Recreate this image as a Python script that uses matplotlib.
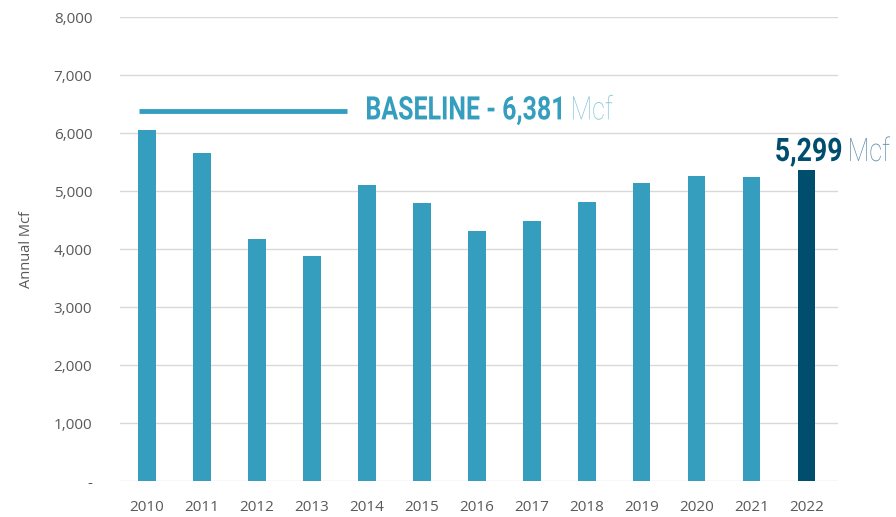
import matplotlib
matplotlib.use("Agg")
import matplotlib.pyplot as plt
from matplotlib.ticker import FuncFormatter
from matplotlib.textpath import TextPath
from matplotlib.patches import PathPatch
from matplotlib.font_manager import FontProperties
from matplotlib.transforms import Affine2D, ScaledTranslation

years = ["2010", "2011", "2012", "2013", "2014", "2015", "2016",
         "2017", "2018", "2019", "2020", "2021", "2022"]
annual_mcf = [6050, 5660, 4170, 3880, 5100, 4790, 4310,
              4480, 4810, 5140, 5260, 5240, 5360]
baseline = 6381
latest_label = "5,299"

LIGHT = "#359ebf"
DARK = "#004e6e"
GREY = "#595959"

fig = plt.figure(figsize=(8.96, 5.17), dpi=100)
ax = fig.add_axes([0.134, 0.0696, 0.801, 0.8975])

x = list(range(len(years)))
colors = [LIGHT] * (len(years) - 1) + [DARK]
ax.bar(x, annual_mcf, width=0.31, color=colors, zorder=3)

ax.set_ylim(0, 8000)
ax.set_xlim(-0.49, 12.56)
ax.set_yticks(range(0, 8001, 1000))
ax.yaxis.set_major_formatter(FuncFormatter(lambda v, p: "-" if v == 0 else f"{int(v):,}"))
ax.set_xticks(x)
ax.set_xticklabels(years)
ax.grid(axis="y", color="#d9d9d9", lw=1, zorder=0)
for s in ax.spines.values():
    s.set_visible(False)
ax.tick_params(axis="both", length=0, labelsize=11, labelcolor=GREY)
ax.tick_params(axis="y", pad=20)
ax.tick_params(axis="x", pad=14)
for lab in ax.get_xticklabels() + ax.get_yticklabels():
    lab.set_family("Open Sans")
ax.set_ylabel("Annual Mcf", fontsize=10.5, color=GREY, family="Open Sans", labelpad=14)

BOLD = FontProperties(family="Roboto", weight="bold")
THIN = FontProperties(family="Roboto", weight="light")


def cond_text(xd, yd, s, prop, color, cap_px, width_px, dx_px=0, dy_px=0):
    """Condensed headline text: scale a text path to a cap height / width in pixels."""
    p = TextPath((0, 0), s, size=100, prop=prop)
    cap = TextPath((0, 0), "H", size=100, prop=prop).get_extents().height
    ext = p.get_extents()
    ky = cap_px / cap
    kx = width_px / ext.width
    tr = (Affine2D().translate(-ext.x0, 0).scale(kx, ky)
          .translate(dx_px, -cap_px / 2 + dy_px)
          + ScaledTranslation(xd, yd, ax.transData))
    ax.add_patch(PathPatch(p, transform=tr, color=color, lw=0, clip_on=False, zorder=5))


# baseline marker line + text
ax.plot([-0.15, 3.64], [baseline, baseline], color=LIGHT, lw=3.5,
        solid_capstyle="butt", zorder=4)
cond_text(4.0, baseline, "BASELINE - 6,381", BOLD, LIGHT, 23, 194, dy_px=3)
cond_text(4.0, baseline, "Mcf", THIN, "#86c2d8", 23, 40, dx_px=206, dy_px=3)

cond_text(11.44, 5716, latest_label, BOLD, DARK, 23, 65)
cond_text(11.44, 5716, "Mcf", THIN, "#5b8ba5", 23, 40, dx_px=74)

fig.savefig("out.png", dpi=100)
